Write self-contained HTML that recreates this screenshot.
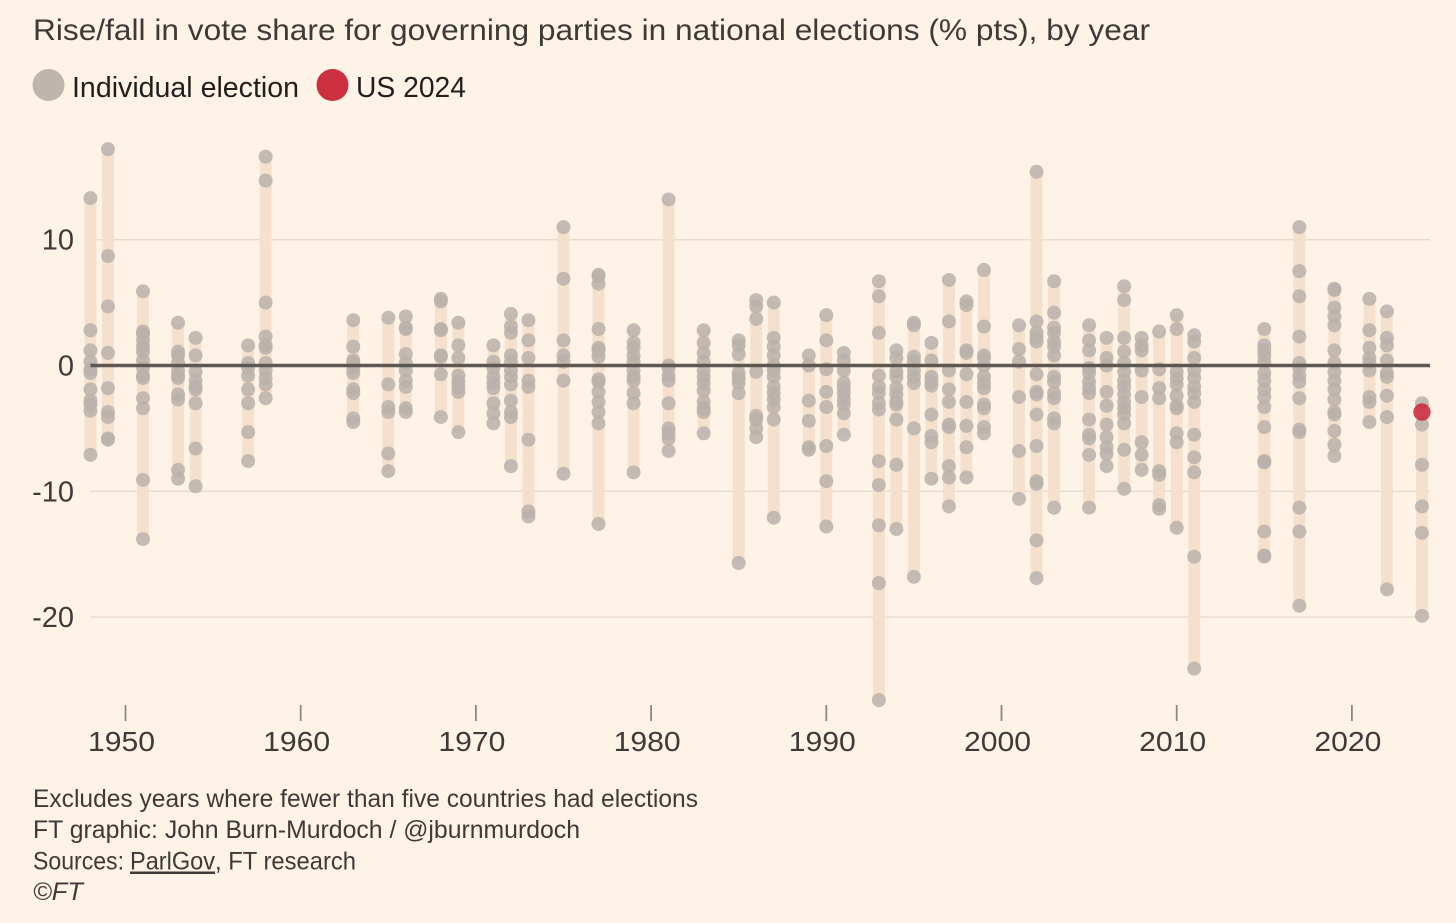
<!DOCTYPE html>
<html lang="en">
<head>
<meta charset="utf-8">
<title>Rise/fall in vote share for governing parties</title>
<style>
html,body{margin:0;padding:0;background:#fff3e8;}
svg{display:block;font-family:"Liberation Sans",sans-serif;}
</style>
</head>
<body>
<svg id="chart" xmlns="http://www.w3.org/2000/svg" width="1456" height="923" viewBox="0 0 1456 923">
  <rect x="0" y="0" width="1456" height="923" fill="#fff3e8"/>
  <text x="33" y="40" font-size="30" fill="#3e3a37" textLength="1117" lengthAdjust="spacingAndGlyphs">Rise/fall in vote share for governing parties in national elections (% pts), by year</text>
  <circle cx="48.5" cy="85" r="16" fill="#bdb5ae"/>
  <text x="72" y="97" font-size="29" fill="#211f1e" textLength="227" lengthAdjust="spacingAndGlyphs">Individual election</text>
  <circle cx="332.5" cy="85" r="16" fill="#cc3040"/>
  <text x="356" y="97" font-size="29" fill="#211f1e" textLength="110" lengthAdjust="spacingAndGlyphs">US 2024</text>
  <g id="grid"></g>
  <g id="yLabels"></g>
  <g id="xAxis"></g>
  <g id="bars"></g>
  <g id="dots"></g>
  <line id="zeroLine" stroke="#5d5854" stroke-width="3.6"/>
  <g id="highlight"></g>
  <g font-size="25" fill="#3e3a37">
    <text x="33" y="807" textLength="665" lengthAdjust="spacingAndGlyphs">Excludes years where fewer than five countries had elections</text>
    <text x="33" y="838" textLength="547" lengthAdjust="spacingAndGlyphs">FT graphic: John Burn-Murdoch / @jburnmurdoch</text>
    <text x="33" y="869.5" textLength="91" lengthAdjust="spacingAndGlyphs">Sources:</text>
    <text x="130" y="869.5" text-decoration="underline" textLength="85" lengthAdjust="spacingAndGlyphs">ParlGov</text>
    <text x="215" y="869.5" textLength="141" lengthAdjust="spacingAndGlyphs">, FT research</text>
    <text x="33" y="900" font-style="italic" textLength="50" lengthAdjust="spacingAndGlyphs">©FT</text>
  </g>
</svg>
<script>
const years = [1948,1949,1951,1953,1954,1957,1958,1963,1965,1966,1968,1969,1971,1972,1973,1975,1977,1979,1981,1983,1985,1986,1987,1989,1990,1991,1993,1994,1995,1996,1997,1998,1999,2001,2002,2003,2005,2006,2007,2008,2009,2010,2011,2015,2017,2019,2021,2022,2024];
const voteChanges = [
  [13.3,2.8,1.2,0.3,-0.3,-0.6,-1.9,-2.8,-3.1,-3.6,-7.1],
  [17.2,8.7,4.7,1.0,-1.8,-3.7,-4.1,-5.8,-5.9],
  [5.9,2.7,2.5,2.0,1.5,1.1,0.4,-0.2,-0.8,-1.0,-2.6,-3.4,-9.1,-13.8],
  [3.4,1.1,0.8,0.2,-0.4,-0.8,-1.0,-2.3,-2.7,-8.3,-9.0],
  [2.2,0.8,-0.5,-1.2,-1.7,-1.9,-3.0,-6.6,-9.6],
  [1.6,0.2,-0.2,-0.8,-1.9,-3.0,-5.3,-7.6],
  [16.6,14.7,5.0,2.3,1.6,1.4,0.2,-0.4,-1.0,-1.5,-2.6],
  [3.6,1.5,0.4,0.2,-0.2,-0.6,-1.9,-2.2,-4.2,-4.5],
  [3.8,-1.5,-3.3,-3.7,-7.0,-8.4],
  [3.9,3.0,2.9,0.9,0.2,-0.4,-1.2,-1.7,-3.4,-3.7],
  [5.3,5.1,2.9,2.8,0.8,0.7,-0.7,-4.1],
  [3.4,1.6,0.6,-0.8,-1.3,-1.7,-2.1,-5.3],
  [1.6,0.3,-0.2,-0.9,-1.4,-1.8,-3.0,-3.8,-4.6],
  [4.1,3.1,2.6,0.8,0.3,-0.4,-0.9,-1.5,-2.8,-3.7,-4.1,-8.0],
  [3.6,2.0,0.6,-1.2,-1.7,-5.9,-11.6,-12.0],
  [11.0,6.9,2.0,0.8,0.3,-1.2,-8.6],
  [7.2,7.1,6.5,2.9,1.4,1.2,0.7,-1.1,-1.3,-2.1,-2.9,-3.7,-4.6,-12.6],
  [2.8,1.8,1.4,0.8,0.3,-0.4,-0.9,-1.2,-2.2,-3.0,-8.5],
  [13.2,0.0,-0.2,-0.8,-1.2,-3.0,-5.0,-5.4,-5.8,-6.8],
  [2.8,1.8,1.0,0.3,-0.4,-0.9,-1.4,-2.0,-2.9,-3.4,-3.7,-5.4],
  [2.0,1.6,0.9,-0.6,-1.0,-1.4,-2.2,-15.7],
  [5.2,4.7,3.7,-0.5,-4.0,-4.3,-5.0,-5.7],
  [5.0,2.2,1.5,0.8,0.0,-0.4,-0.9,-1.7,-2.2,-2.7,-3.3,-4.3,-12.1],
  [0.8,0.0,-2.8,-4.4,-6.5,-6.7],
  [4.0,2.0,-0.3,-2.1,-3.3,-6.4,-9.2,-12.8],
  [1.0,0.4,-0.4,-1.4,-1.8,-2.2,-2.7,-3.1,-3.8,-5.5],
  [6.7,5.5,2.6,-0.8,-1.7,-2.2,-3.0,-3.5,-7.6,-9.5,-12.7,-17.3,-26.6],
  [1.2,0.6,-0.5,-0.9,-1.8,-2.3,-2.9,-3.1,-4.3,-7.9,-13.0],
  [3.4,3.2,0.7,0.3,-0.4,-0.9,-1.4,-5.0,-16.8],
  [1.8,0.4,-0.9,-1.3,-1.6,-3.9,-5.6,-6.1,-9.0],
  [6.8,3.5,-0.4,-1.9,-2.9,-4.7,-4.9,-8.0,-8.9,-11.2],
  [5.1,4.8,1.2,1.0,-0.7,-2.9,-4.8,-6.5,-8.9],
  [7.6,3.1,0.8,0.6,0.0,-0.9,-1.4,-1.8,-3.1,-3.4,-4.9,-5.4],
  [3.2,1.3,0.3,-2.5,-6.8,-10.6],
  [15.4,3.5,2.6,2.2,1.9,-0.7,-2.1,-2.3,-3.9,-6.4,-9.2,-9.4,-13.9,-16.9],
  [6.7,4.2,3.0,2.6,1.9,1.5,0.8,-0.9,-1.3,-2.2,-2.6,-4.2,-4.6,-11.3],
  [3.2,2.0,1.2,-0.2,-0.6,-1.3,-1.8,-2.2,-4.3,-5.5,-5.8,-7.1,-11.3],
  [2.2,0.6,0.0,-2.1,-3.2,-4.7,-5.7,-6.5,-7.0,-8.0],
  [6.3,5.2,2.2,1.1,0.2,-0.5,-1.2,-1.7,-2.3,-2.9,-3.4,-3.9,-4.6,-6.7,-9.8],
  [2.2,1.6,1.2,-0.4,-2.5,-6.1,-7.1,-8.3],
  [2.7,-0.3,-1.8,-2.6,-8.4,-8.7,-11.1,-11.4],
  [4.0,2.9,-0.5,-1.0,-1.5,-2.4,-3.2,-3.4,-5.4,-6.1,-12.9],
  [2.4,1.9,0.6,-0.4,-1.0,-1.7,-2.2,-2.9,-5.5,-7.3,-8.5,-15.2,-24.1],
  [2.9,1.6,1.2,0.8,0.3,-0.6,-1.2,-1.9,-2.5,-3.3,-4.9,-7.6,-7.7,-13.2,-15.1,-15.2],
  [11.0,7.5,5.5,2.3,0.2,-0.2,-0.8,-1.3,-2.6,-5.1,-5.3,-11.3,-13.2,-19.1],
  [6.1,6.0,4.6,3.9,3.2,1.2,0.2,-0.5,-1.2,-1.9,-2.7,-3.7,-3.9,-5.2,-6.3,-7.2],
  [5.3,2.8,1.4,0.6,0.2,-0.4,-2.5,-2.9,-4.5],
  [4.3,2.2,1.6,0.4,-0.6,-0.9,-2.4,-4.1,-17.8],
  [-3.0,-4.7,-7.9,-11.2,-13.3,-19.9]
];
const usYears = [2024];
const usValues = [-3.7];
const yTicks = [10,0,-10,-20];
const xTicks = [1950,1960,1970,1980,1990,2000,2010,2020];

const NS = 'http://www.w3.org/2000/svg';
function xScale(year){ return 125.5 + (year - 1950) * 17.52; }
function yScale(v){ return 365.5 - v * 12.58; }
function make(tag, parent){
  const el = document.createElementNS(NS, tag);
  parent.appendChild(el);
  return el;
}

const left = xScale(1948);
const right = 1430;

const gridGroup = document.getElementById('grid');
const yLabelGroup = document.getElementById('yLabels');
yTicks.forEach(function(t){
  if (t !== 0) {
    const g = make('line', gridGroup);
    
    
    g.setAttribute('x1', left);
    g.setAttribute('x2', right);
    g.setAttribute('y1', yScale(t));
    g.setAttribute('y2', yScale(t));
    g.setAttribute('stroke', '#e6d9cd');
    g.setAttribute('stroke-width', '1.4');
  }
  const lab = make('text', yLabelGroup);
  
  
  lab.setAttribute('x', 74);
  lab.setAttribute('y', yScale(t) + 10);
  lab.setAttribute('text-anchor', 'end');
  lab.setAttribute('font-size', '29');
  lab.setAttribute('fill', '#3e3a37');
  lab.textContent = String(t);
});

const xGroup = document.getElementById('xAxis');
xTicks.forEach(function(t){
  const tick = make('line', xGroup);
  
  
  tick.setAttribute('x1', xScale(t));
  tick.setAttribute('x2', xScale(t));
  tick.setAttribute('y1', 705);
  tick.setAttribute('y2', 721);
  tick.setAttribute('stroke', '#8d8781');
  tick.setAttribute('stroke-width', '1.8');
  const lab = make('text', xGroup);
  
  
  lab.setAttribute('x', xScale(t) - 4);
  lab.setAttribute('y', 751);
  lab.setAttribute('text-anchor', 'middle');
  lab.setAttribute('font-size', '28');
  lab.setAttribute('fill', '#3e3a37');
  lab.setAttribute('textLength', '67');
  lab.setAttribute('lengthAdjust', 'spacingAndGlyphs');
  lab.textContent = String(t);
});

const barGroup = document.getElementById('bars');
const dotGroup = document.getElementById('dots');
years.forEach(function(year, i){
  const vals = voteChanges[i];
  const hi = Math.max.apply(null, vals);
  const lo = Math.min.apply(null, vals);
  const bar = make('rect', barGroup);
  
  
  bar.setAttribute('x', xScale(year) - 6);
  bar.setAttribute('y', yScale(hi));
  bar.setAttribute('width', 12);
  bar.setAttribute('height', yScale(lo) - yScale(hi));
  bar.setAttribute('fill', '#f5e0cd');
  vals.forEach(function(v){
    const dot = make('circle', dotGroup);
    
    
    dot.setAttribute('cx', xScale(year));
    dot.setAttribute('cy', yScale(v));
    dot.setAttribute('r', 7);
    dot.setAttribute('fill', '#bab1aa');
    dot.setAttribute('fill-opacity', '0.85');
  });
});

const zero = document.getElementById('zeroLine');
zero.setAttribute('x1', left);
zero.setAttribute('x2', right);
zero.setAttribute('y1', yScale(0));
zero.setAttribute('y2', yScale(0));

const hlGroup = document.getElementById('highlight');
usYears.forEach(function(year, i){
  const dot = make('circle', hlGroup);
  
  
  dot.setAttribute('cx', xScale(year));
  dot.setAttribute('cy', yScale(usValues[i]));
  dot.setAttribute('r', 8.7);
  dot.setAttribute('fill', '#cc3040');
  dot.setAttribute('fill-opacity', '0.9');
});
</script>
</body>
</html>
